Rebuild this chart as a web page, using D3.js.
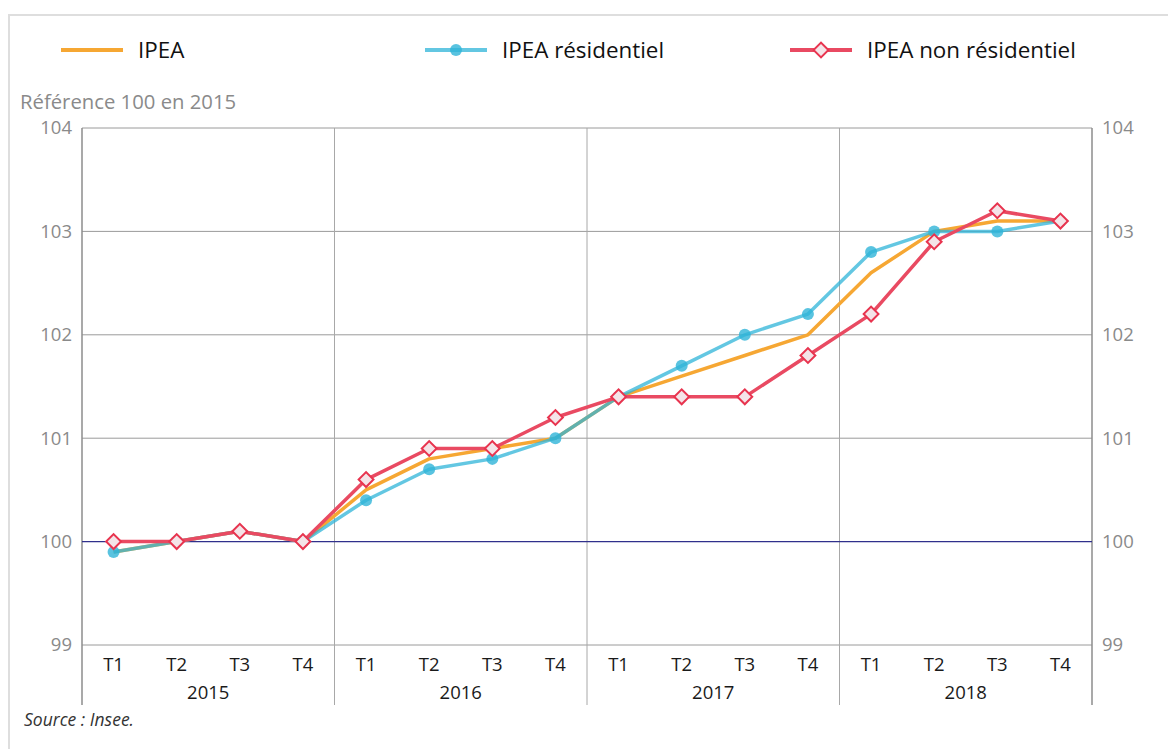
<!DOCTYPE html>
<html>
<head>
<meta charset="utf-8">
<script src="https://cdn.jsdelivr.net/npm/d3@7"></script>
<style>
  body { margin: 0; background: #fff; font-family: "Open Sans", sans-serif; }
  svg text { font-family: "Open Sans", sans-serif; }
</style>
</head>
<body>
<svg id="chart" width="1168" height="749"></svg>
<script>
// Indice de prix de l'entretien-amélioration (IPEA), base 100 en 2015

let years = ["2015", "2016", "2017", "2018"];
let quarters = ["T1", "T2", "T3", "T4"];
let yTicks = [99, 100, 101, 102, 103, 104];

let ipea = [99.9, 100.0, 100.1, 100.0, 100.5, 100.8, 100.9, 101.0,
            101.4, 101.6, 101.8, 102.0, 102.6, 103.0, 103.1, 103.1];
let ipeaRes = [99.9, 100.0, 100.1, 100.0, 100.4, 100.7, 100.8, 101.0,
               101.4, 101.7, 102.0, 102.2, 102.8, 103.0, 103.0, 103.1];
let ipeaNonRes = [100.0, 100.0, 100.1, 100.0, 100.6, 100.9, 100.9, 101.2,
                  101.4, 101.4, 101.4, 101.8, 102.2, 102.9, 103.2, 103.1];

let svg = d3.select("#chart");

// frame
svg.append("rect")
  .attr("x", 9).attr("y", 15).attr("width", 1170).attr("height", 750)
  .attr("fill", "none").attr("stroke", "#dedede").attr("stroke-width", 2);

let plotLeft = 82, plotRight = 1092, plotTop = 128, plotBottom = 645;

let periods = [];
years.forEach(function(yr) {
  quarters.forEach(function(q) { periods.push(yr + "-" + q); });
});

let x = d3.scaleBand().domain(periods).range([plotLeft, plotRight]);
let xYear = d3.scaleBand().domain(years).range([plotLeft, plotRight]);
let y = d3.scaleLinear().domain([99, 104]).range([plotBottom, plotTop]);

let cx = function(d, i) { return x(periods[i]) + x.bandwidth() / 2; };

// horizontal grid
svg.append("g")
  .selectAll("line")
  .data(yTicks.filter(function(t) { return t !== 100; }))
  .enter().append("line")
    .attr("x1", plotLeft).attr("x2", plotRight)
    .attr("y1", y).attr("y2", y)
    .attr("stroke", "#9a9a9a").attr("stroke-width", 1);

// year separators (extend below the axis labels)
svg.append("g")
  .selectAll("line")
  .data(years.slice(1))
  .enter().append("line")
    .attr("x1", function(d) { return xYear(d); })
    .attr("x2", function(d) { return xYear(d); })
    .attr("y1", plotTop).attr("y2", 705)
    .attr("stroke", "#a8a8a8").attr("stroke-width", 1);

// left and right axes
[plotLeft, plotRight].forEach(function(px) {
  svg.append("line")
    .attr("x1", px).attr("x2", px).attr("y1", plotTop).attr("y2", 705)
    .attr("stroke", "#8c8c8c").attr("stroke-width", 1.5);
});

// reference line at 100
svg.append("line")
  .attr("x1", plotLeft).attr("x2", plotRight)
  .attr("y1", y(100)).attr("y2", y(100))
  .attr("stroke", "#30308c").attr("stroke-width", 1.3);

// y tick labels, both sides
let fmt = d3.format("d");
let yLeft = d3.axisLeft(y).tickValues(yTicks).tickFormat(fmt).tickSize(0).tickPadding(10);
let yRight = d3.axisRight(y).tickValues(yTicks).tickFormat(fmt).tickSize(0).tickPadding(10);
svg.append("g").attr("transform", "translate(" + plotLeft + ",0)").call(yLeft)
  .call(function(g) { g.select(".domain").remove(); })
  .selectAll("text").attr("fill", "#8a8a8a").style("font-size", "18.5px");
svg.append("g").attr("transform", "translate(" + plotRight + ",0)").call(yRight)
  .call(function(g) { g.select(".domain").remove(); })
  .selectAll("text").attr("fill", "#8a8a8a").style("font-size", "18.5px");

// x labels: quarters then years
let xAxis = d3.axisBottom(x).tickSize(0).tickPadding(13)
  .tickFormat(function(d) { return d.split("-")[1]; });
svg.append("g").attr("transform", "translate(0," + plotBottom + ")").call(xAxis)
  .call(function(g) { g.select(".domain").remove(); })
  .selectAll("text").attr("fill", "#1a1a1a").style("font-size", "18.5px");

let xYearAxis = d3.axisBottom(xYear).tickSize(0).tickPadding(41);
svg.append("g").attr("transform", "translate(0," + plotBottom + ")").call(xYearAxis)
  .call(function(g) { g.select(".domain").remove(); })
  .selectAll("text").attr("fill", "#1a1a1a").style("font-size", "18.5px");

// unit
svg.append("text")
  .attr("x", 20).attr("y", 109)
  .attr("fill", "#8a8a8a").style("font-size", "20.3px")
  .text("Référence 100 en 2015");

// source
svg.append("text")
  .attr("x", 24).attr("y", 726)
  .attr("fill", "#333").style("font-size", "17.5px").style("font-style", "italic")
  .text("Source : Insee.");

// lines (blue is semi transparent, so it tints where it lies on orange)
let ORANGE = "#f6a733", BLUE = "#2fb4d8", RED = "#e94a62";

let line = d3.line().x(cx).y(function(d) { return y(d); });

let series = [
  { name: "IPEA", values: ipea, color: ORANGE, opacity: 1 },
  { name: "IPEA résidentiel", values: ipeaRes, color: BLUE, opacity: 0.75 },
  { name: "IPEA non résidentiel", values: ipeaNonRes, color: RED, opacity: 1 }
];

series.forEach(function(s) {
  svg.append("path")
    .datum(s.values)
    .attr("d", line)
    .attr("fill", "none")
    .attr("stroke", s.color)
    .attr("stroke-width", 3.5)
    .attr("stroke-opacity", s.opacity)
    .attr("stroke-linejoin", "round");
});

// markers
svg.append("g").selectAll("circle")
  .data(ipeaRes)
  .enter().append("circle")
    .attr("cx", cx)
    .attr("cy", function(d) { return y(d); })
    .attr("r", 6)
    .attr("fill", BLUE)
    .attr("fill-opacity", 0.8);

let diamond = d3.symbol().type(d3.symbolSquare).size(110);
svg.append("g").selectAll("path")
  .data(ipeaNonRes)
  .enter().append("path")
    .attr("d", diamond)
    .attr("transform", function(d, i) {
      return "translate(" + cx(d, i) + "," + y(d) + ") rotate(45)";
    })
    .attr("fill", "#f4e4e8")
    .attr("stroke", "#e8344f")
    .attr("stroke-width", 2);

// legend
let legend = [
  { name: "IPEA", color: ORANGE, opacity: 1, x: 61, marker: null },
  { name: "IPEA résidentiel", color: BLUE, opacity: 0.75, x: 425, marker: "circle" },
  { name: "IPEA non résidentiel", color: RED, opacity: 1, x: 790, marker: "diamond" }
];

let lg = svg.append("g").selectAll("g")
  .data(legend)
  .enter().append("g")
    .attr("transform", function(d) { return "translate(" + d.x + ",50)"; });

lg.append("line")
  .attr("x1", 0).attr("x2", 62)
  .attr("stroke", function(d) { return d.color; })
  .attr("stroke-opacity", function(d) { return d.opacity; })
  .attr("stroke-width", 4);

lg.filter(function(d) { return d.marker === "circle"; })
  .append("circle").attr("cx", 31).attr("r", 6)
  .attr("fill", BLUE).attr("fill-opacity", 0.8);

lg.filter(function(d) { return d.marker === "diamond"; })
  .append("path")
    .attr("d", diamond)
    .attr("transform", "translate(31,0) rotate(45)")
    .attr("fill", "#f4e4e8")
    .attr("stroke", "#e8344f")
    .attr("stroke-width", 2);

lg.append("text")
  .attr("x", 77).attr("y", 8)
  .attr("fill", "#111")
  .style("font-size", "22.4px")
  .text(function(d) { return d.name; });
</script>
</body>
</html>
